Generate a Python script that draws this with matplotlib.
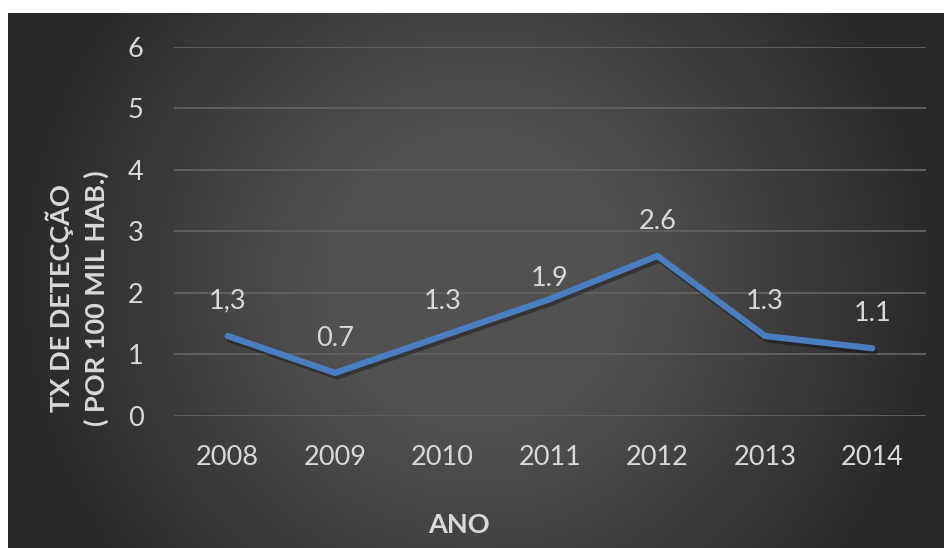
import numpy as np
import matplotlib.pyplot as plt
import matplotlib.patheffects as pe

anos = ["2008", "2009", "2010", "2011", "2012", "2013", "2014"]
taxa = [1.3, 0.7, 1.3, 1.9, 2.6, 1.3, 1.1]
rotulos = ["1,3", "0.7", "1.3", "1.9", "2.6", "1.3", "1.1"]
yticks = [0, 1, 2, 3, 4, 5, 6]

plt.rcParams['font.family'] = ['Lato', 'DejaVu Sans']
TXT = "#d9d9d9"
LINHA = "#4a7ec0"

fig = plt.figure(figsize=(9.44, 5.48), dpi=100, facecolor="white")

# dark panel with a soft radial gradient
bg = fig.add_axes([8 / 944, 0, 936 / 944, 535 / 548], zorder=0)
w, h = 936, 535
xx, yy = np.meshgrid(np.arange(w), np.arange(h))
d = np.hypot(xx - 468, yy - 267)
shade = np.clip(81 - (d - 150) * 41 / 320, 40, 81) / 255
img = np.dstack([shade, shade, shade])
bg.imshow(img, aspect="auto", extent=[0, 1, 0, 1], interpolation="bilinear")
bg.set_axis_off()

ax = fig.add_axes([174 / 944, 132 / 548, 752 / 944, 369.3 / 548], zorder=1)
ax.patch.set_alpha(0)
x = np.arange(len(anos))
ax.set_xlim(-0.5, len(anos) - 0.5)
ax.set_ylim(0, 6)
ax.set_yticks(yticks)
ax.set_xticks(x)
ax.set_xticklabels(anos)
ax.grid(axis="y", color="#5f5f5f", linewidth=1.4)
ax.set_axisbelow(True)
for s in ax.spines.values():
    s.set_visible(False)
ax.tick_params(length=0, colors=TXT, labelsize=19.5)
ax.tick_params(axis="x", pad=21)
ax.tick_params(axis="y", pad=22)

ax.plot(x, taxa, color=LINHA, linewidth=4.5, solid_capstyle="round",
        solid_joinstyle="miter",
        path_effects=[pe.SimpleLineShadow(offset=(1.5, -2.5), shadow_color="black", alpha=0.35),
                      pe.Normal()])

# label offsets in points above each point
desloc = [25, 25, 25, 15, 25, 25, 25]
for xi, yi, t, o in zip(x, taxa, rotulos, desloc):
    ax.annotate(t, (xi, yi), xytext=(0, o), textcoords="offset points",
                ha="center", va="center", color=TXT, fontsize=19.5)

fig.text(459 / 944, 1 - 525 / 548, "ANO", ha="center", va="center",
         color=TXT, fontsize=19.5, fontweight="bold")
fig.text(77 / 944, 1 - 298 / 548, "TX DE DETECÇÃO\n( POR 100 MIL HAB.)",
         ha="center", va="center", rotation=90, color=TXT, fontsize=19.5,
         fontweight="bold", linespacing=1.45)

fig.savefig("out.png", dpi=100, facecolor="white")
